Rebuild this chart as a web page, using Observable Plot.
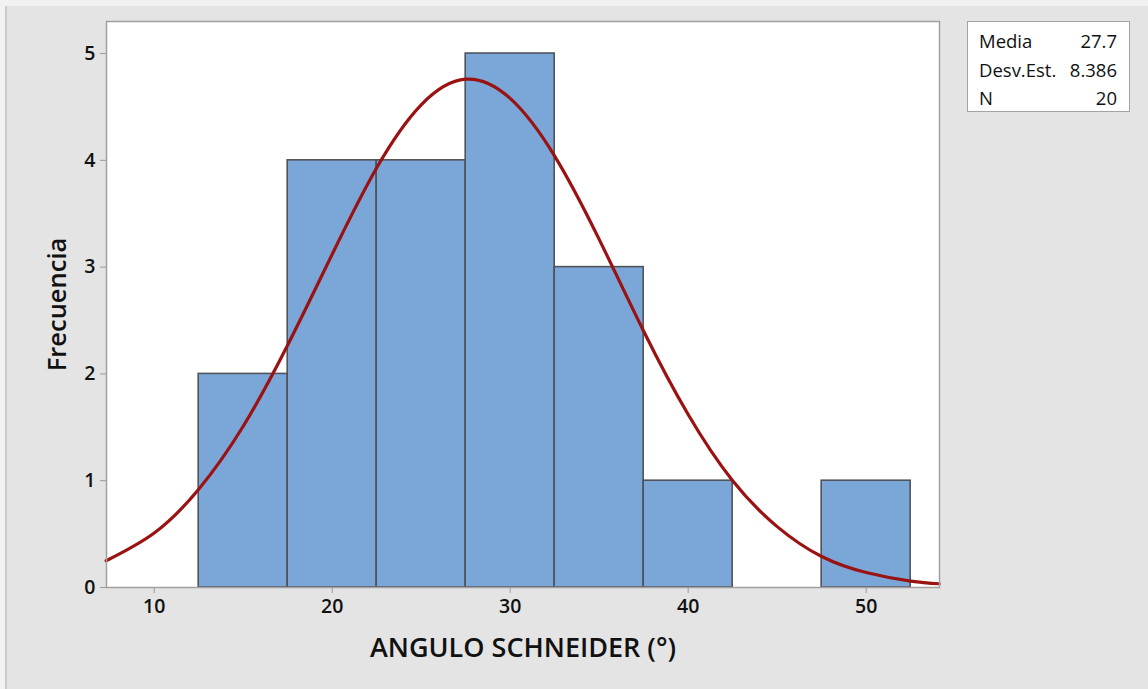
<!DOCTYPE html>
<html>
<head>
<meta charset="utf-8">
<script src="https://cdn.jsdelivr.net/npm/d3@7"></script>
<script src="https://cdn.jsdelivr.net/npm/@observablehq/plot@0.6"></script>
<style>
  html, body { margin: 0; padding: 0; background: #f2f2f2; }
  #wrap { position: relative; width: 1148px; height: 689px; overflow: hidden; font-family: "Open Sans", "Noto Sans", sans-serif; }
  #panel { position: absolute; left: 5px; top: 6px; right: 0; bottom: 0; background: #e4e4e4; border-left: 2px solid #cacaca; }
  #chart { position: absolute; left: 0; top: 0; }
  #legend { position: absolute; left: 967px; top: 21px; width: 161px; height: 89px; background: #fff; border: 1.5px solid #a3a3a3; font-size: 18.5px; font-weight: 500; color: #111; }
  #legend .row { position: absolute; left: 11px; right: 12px; display: flex; justify-content: space-between; line-height: 22px; }
</style>
</head>
<body>
<div id="wrap">
  <div id="panel"></div>
  <div id="chart"></div>
  <div id="legend"></div>
</div>
<script>
// Histogram bins (lower edge, upper edge) and counts
const binLower = [12.5, 17.5, 22.5, 27.5, 32.5, 37.5, 42.5, 47.5];
const binUpper = [17.5, 22.5, 27.5, 32.5, 37.5, 42.5, 47.5, 52.5];
const counts   = [2, 4, 4, 5, 3, 1, 0, 1];

// Fitted normal curve
const curveX = [7.3, 10, 12.5, 15, 17.5, 20, 22.5, 25, 27.5, 30, 32.5, 35, 37.5, 40, 42.5, 45, 47.5, 50, 52.5, 54.1];
const curveY = [0.25, 0.51, 0.92, 1.51, 2.27, 3.12, 3.93, 4.52, 4.76, 4.58, 4.04, 3.26, 2.40, 1.62, 1.00, 0.57, 0.29, 0.14, 0.06, 0.035];

// Ticks and labels
const xTicks = [10, 20, 30, 40, 50];
const yTicks = [0, 1, 2, 3, 4, 5];
const xTitle = "ANGULO SCHNEIDER (°)";
const yTitle = "Frecuencia";

// Legend statistics
const statLabels = ["Media", "Desv.Est.", "N"];
const statValues = ["27.7", "8.386", "20"];

const bars = binLower.map((b, i) => ({x1: b, x2: binUpper[i], y: counts[i]})).filter(d => d.y > 0);
const curve = curveX.map((x, i) => ({x, y: curveY[i]}));

const plot = Plot.plot({
  width: 1148,
  height: 689,
  marginLeft: 106,
  marginRight: 209,
  marginTop: 21,
  marginBottom: 102,
  style: {background: "transparent", fontFamily: "'Open Sans', 'Noto Sans', sans-serif", color: "#111", overflow: "visible"},
  x: {domain: [7.32, 54.12]},
  y: {domain: [0, 5.3]},
  marks: [
    Plot.frame({fill: "white", stroke: null}),
    Plot.rectY(bars, {x1: "x1", x2: "x2", y: "y", fill: "#7ba7d8", stroke: "#4f535a", strokeWidth: 1.6}),
    Plot.line(curve, {x: "x", y: "y", stroke: "#9a1212", strokeWidth: 3.2, curve: "natural"}),
    Plot.frame({stroke: "#a0a0a0", strokeWidth: 1.5}),
    Plot.axisX({ticks: xTicks, tickFormat: "d", tickSize: 6, tickPadding: 6, stroke: "#9a9a9a", fontSize: 19.5, fontWeight: 600, label: null}),
    Plot.axisY({ticks: yTicks, tickFormat: "d", tickSize: 6, tickPadding: 5, stroke: "#9a9a9a", fontSize: 19.5, fontWeight: 600, label: null}),
    Plot.text([xTitle], {frameAnchor: "bottom", dy: 61, lineAnchor: "middle", fontSize: 27, fontWeight: 600, fill: "#111"}),
    Plot.text([yTitle], {frameAnchor: "left", dx: -49, textAnchor: "middle", rotate: -90, fontSize: 25.5, fontWeight: 600, fill: "#111"})
  ]
});
document.getElementById("chart").appendChild(plot);

const legend = document.getElementById("legend");
statLabels.forEach((lab, i) => {
  const row = document.createElement("div");
  row.className = "row";
  row.style.top = (8 + i * 28.7) + "px";
  const a = document.createElement("span"); a.textContent = lab;
  const b = document.createElement("span"); b.textContent = statValues[i];
  row.appendChild(a); row.appendChild(b);
  legend.appendChild(row);
});
</script>
</body>
</html>
